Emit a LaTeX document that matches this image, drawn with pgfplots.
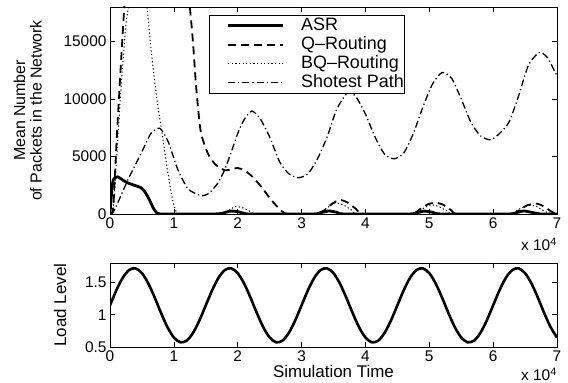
\documentclass[border=0pt]{standalone}
\usepackage{fontspec}
\setmainfont{Liberation Sans}
\usepackage{pgfplots}
\pgfplotsset{compat=1.18}
\usepackage{pgfplotstable}

\pgfplotstableread{
x y
0.00 0
0.02 1500
0.05 2970
0.12 3230
0.20 2950
0.28 2700
0.38 2500
0.48 2300
0.55 1900
0.62 1200
0.68 500
0.73 100
0.78 0
1.00 0
1.60 0
1.75 50
1.88 250
2.00 200
2.12 30
2.25 0
3.15 0
3.28 80
3.42 260
3.55 150
3.68 0
4.65 0
4.78 60
4.92 250
5.05 150
5.20 0
6.20 0
6.33 60
6.47 260
6.60 150
6.75 0
7.00 0
}\asr

\pgfplotstableread{
x y
0.00 0
0.05 500
0.10 6000
0.16 12000
0.23 18500
0.30 23000
0.50 28000
0.80 29000
1.05 25000
1.20 20000
1.25 18000
1.30 14900
1.35 11000
1.42 7200
1.53 5300
1.65 4300
1.80 3800
1.90 3900
2.00 4000
2.10 3800
2.20 3400
2.35 2500
2.50 1400
2.60 750
2.70 200
2.80 0
3.20 0
3.35 300
3.48 900
3.60 1220
3.72 1000
3.85 450
3.98 0
4.70 0
4.85 400
4.98 850
5.10 980
5.22 800
5.35 300
5.45 0
6.25 0
6.40 300
6.53 750
6.68 900
6.80 650
6.90 250
7.00 0
}\qr

\pgfplotstableread{
x y
0.00 0
0.05 300
0.10 4500
0.15 9000
0.20 13000
0.25 16500
0.30 18100
0.42 18500
0.55 18200
0.58 18000
0.64 14500
0.70 11500
0.76 9000
0.83 6500
0.90 3800
0.96 1800
1.00 800
1.04 150
1.08 0
1.75 0
1.85 300
1.97 650
2.10 500
2.20 200
2.32 0
3.25 0
3.38 450
3.52 950
3.65 800
3.78 350
3.90 0
4.75 0
4.88 400
5.02 800
5.15 650
5.28 250
5.40 0
6.25 0
6.38 350
6.55 750
6.68 650
6.80 250
6.92 0
7.00 0
}\bqr

\pgfplotstableread{
x y
0.00 0
0.07 350
0.28 2970
0.49 5300
0.64 7000
0.78 7450
0.91 6300
1.06 3900
1.22 2200
1.42 1600
1.55 1800
1.69 2700
1.80 3900
1.90 5400
2.00 7000
2.10 8200
2.22 8950
2.35 8300
2.50 6700
2.66 4500
2.80 3500
2.95 3150
3.10 3500
3.25 4800
3.40 6700
3.55 9100
3.72 10550
3.85 10200
4.00 8700
4.15 6700
4.30 5200
4.45 4800
4.60 5300
4.75 7000
4.90 9300
5.05 11300
5.20 12300
5.35 11800
5.50 10000
5.65 8000
5.80 6800
5.96 6450
6.10 7000
6.25 8000
6.40 10300
6.55 12900
6.72 14050
6.85 13600
7.00 12000
}\spath

\pgfplotstableread{
x y
0.0 1.145
0.1 1.379
0.2 1.572
0.3 1.692
0.4 1.717
0.5 1.643
0.6 1.483
0.7 1.265
0.8 1.025
0.9 0.807
1.0 0.647
1.1 0.573
1.2 0.598
1.3 0.718
1.4 0.911
1.5 1.145
1.6 1.379
1.7 1.572
1.8 1.692
1.9 1.717
2.0 1.643
2.1 1.483
2.2 1.265
2.3 1.025
2.4 0.807
2.5 0.647
2.6 0.573
2.7 0.598
2.8 0.718
2.9 0.911
3.0 1.145
3.1 1.379
3.2 1.572
3.3 1.692
3.4 1.717
3.5 1.643
3.6 1.483
3.7 1.265
3.8 1.025
3.9 0.807
4.0 0.647
4.1 0.573
4.2 0.598
4.3 0.718
4.4 0.911
4.5 1.145
4.6 1.379
4.7 1.572
4.8 1.692
4.9 1.717
5.0 1.643
5.1 1.483
5.2 1.265
5.3 1.025
5.4 0.807
5.5 0.647
5.6 0.573
5.7 0.598
5.8 0.718
5.9 0.911
6.0 1.145
6.1 1.379
6.2 1.572
6.3 1.692
6.4 1.717
6.5 1.643
6.6 1.483
6.7 1.265
6.8 1.025
6.9 0.807
7.0 0.647
}\load

\pgfplotsset{
  mystyle/.style={
    scale only axis,
    width=447bp,
    xmin=0, xmax=7,
    xtick={0,1,2,3,4,5,6,7},
    tick align=inside,
    major tick length=5bp,
    axis line style={line width=0.7bp},
    every tick/.style={black, line width=0.6bp},
    tick label style={font=\fontsize{15.5}{16}\selectfont},
    /pgf/number format/assume math mode=true,
    /pgf/number format/1000 sep={},
    scaled ticks=false,
    label style={font=\fontsize{17}{17.5}\selectfont},
    clip mode=individual,
  }
}

\begin{document}
\begin{tikzpicture}
\useasboundingbox (0bp,0bp) rectangle (568bp,383bp);
\begin{axis}[mystyle,
  at={(110bp,169bp)}, anchor=south west,
  height=207bp,
  ymin=0, ymax=18000,
  ytick={0,5000,10000,15000},
  ylabel={Mean Number\\of Packets in the Network},
  ylabel style={align=center, font=\fontsize{16}{16.5}\selectfont},
  ylabel shift=15bp,
  legend style={at={(rel axis cs:0.2215,0.961)}, anchor=north west,
    draw=black, line width=0.7bp, fill=white,
    font=\fontsize{18}{18}\selectfont,
    inner xsep=0.5bp, inner ysep=1bp,
    nodes={inner sep=0.5bp, text height=13.5bp, text depth=4bp},
    row sep=0.5bp,
    /tikz/every odd column/.append style={column sep=16bp},
    cells={anchor=west}},
  legend cell align=left,
  legend image code/.code={\path (0bp,0bp); \draw[#1] (17bp,0bp) -- (72bp,0bp);},
]
\addplot[black, line width=2.8bp, smooth, tension=0.4] table {\asr};
\addlegendentry{ASR}
\addplot[black, line width=1.8bp, dash pattern=on 8bp off 5bp, smooth, tension=0.4] table {\qr};
\addlegendentry{Q–Routing}
\addplot[black, line width=1bp, dash pattern=on 1.2bp off 2.4bp, smooth, tension=0.4] table {\bqr};
\addlegendentry{BQ–Routing}
\addplot[black, line width=1.3bp, dash pattern=on 7bp off 3bp on 1.2bp off 3bp, smooth, tension=0.4] table {\spath};
\addlegendentry{Shotest Path}
\node[anchor=north east, font=\fontsize{15.5}{16}\selectfont, inner sep=0pt] at (rel axis cs:1,0) [yshift=-24bp] {x 10\textsuperscript{4}};
\end{axis}

\begin{axis}[mystyle,
  at={(110bp,36bp)}, anchor=south west,
  height=84bp,
  ymin=0.5, ymax=1.8,
  ytick={0.5,1,1.5},
  ylabel={Load Level},
  ylabel shift=12bp,
  xlabel={Simulation Time},
  xlabel shift=-3bp,
]
\addplot[black, line width=2.6bp, smooth] table {\load};
\node[anchor=north east, font=\fontsize{15.5}{16}\selectfont, inner sep=0pt] at (rel axis cs:1,0) [yshift=-21bp] {x 10\textsuperscript{4}};
\end{axis}
\end{tikzpicture}
\end{document}
